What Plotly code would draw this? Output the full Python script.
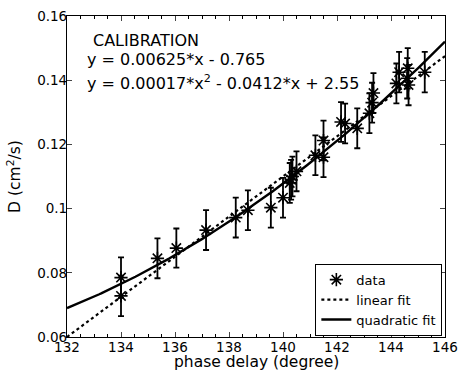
import numpy as np
import plotly.graph_objects as go

# Data
phase_delay = [134.0, 134.0, 135.35, 136.05, 137.15, 138.25, 138.7, 139.55, 140.0,
               140.25, 140.3, 140.35, 140.5, 141.2, 141.5, 141.5, 142.15, 142.3,
               142.75, 143.2, 143.3, 143.35, 144.2, 144.3, 144.6, 144.62, 144.65, 145.25]
diffusion = [0.0785, 0.0728, 0.0845, 0.0877, 0.0933, 0.0972, 0.0995, 0.1003, 0.1034,
             0.1080, 0.1090, 0.1100, 0.1116, 0.1166, 0.1212, 0.1160, 0.1270, 0.1265,
             0.1250, 0.1297, 0.1330, 0.1360, 0.1390, 0.1425, 0.1406, 0.1437, 0.1385, 0.1425]
diffusion_err = [0.0063, 0.0063, 0.0062, 0.0061, 0.0062, 0.0062, 0.0062, 0.0062, 0.0062,
                 0.0062, 0.0062, 0.0062, 0.0062, 0.0062, 0.0062, 0.0062, 0.0062, 0.0062,
                 0.0062, 0.0062, 0.0062, 0.0062, 0.0062, 0.0063, 0.0063, 0.0063, 0.0063, 0.0063]

# Fits (linear as labelled; quadratic as drawn, centred at 139)
linear_coef = [0.00625, -0.765]
quad_center = 139.0
quad_coef = [0.0001804, 0.005929, 0.10166]

x_range = [132, 146]
y_range = [0.06, 0.16]
x_ticks = [132, 134, 136, 138, 140, 142, 144, 146]
y_ticks = [0.06, 0.08, 0.1, 0.12, 0.14, 0.16]

labels = ["CALIBRATION",
          "y = 0.00625*x - 0.765",
          "y = 0.00017*x<sup>2</sup> - 0.0412*x + 2.55"]
x_title = "phase delay (degree)"
y_title = "D (cm<sup>2</sup>/s)"

xf = np.linspace(x_range[0], x_range[1], 200)
y_lin = np.polyval(linear_coef, xf)
y_quad = np.polyval(quad_coef, xf - quad_center)

FONT = "DejaVu Sans, Verdana, sans-serif"

fig = go.Figure()
fig.add_trace(go.Scatter(
    x=phase_delay, y=diffusion, mode="markers", name="data",
    marker=dict(symbol="asterisk-open", size=11, color="black",
                line=dict(width=1.6, color="black")),
    error_y=dict(type="data", array=diffusion_err, color="black",
                 thickness=1.8, width=3),
))
fig.add_trace(go.Scatter(
    x=xf, y=y_lin, mode="lines", name="linear fit",
    line=dict(color="black", width=2.2, dash="dot"),
))
fig.add_trace(go.Scatter(
    x=xf, y=y_quad, mode="lines", name="quadratic fit",
    line=dict(color="black", width=2.4),
))

annots = [
    dict(x=132.9, y=0.1524, text=labels[0]),
    dict(x=132.66, y=0.1466, text=labels[1]),
    dict(x=132.66, y=0.1394, text=labels[2]),
]
for a in annots:
    fig.add_annotation(x=a["x"], y=a["y"], text=a["text"], xref="x", yref="y",
                       xanchor="left", yanchor="middle", showarrow=False,
                       font=dict(family=FONT, size=16, color="black"))

# x-axis title placed flush with the bottom edge, as in the reference
fig.add_annotation(x=0.5, y=-0.112, xref="paper", yref="paper", text=x_title,
                   xanchor="center", yanchor="bottom", showarrow=False,
                   font=dict(family=FONT, size=15.5, color="black"))

fig.update_layout(
    width=458, height=373,
    margin=dict(l=67, r=13, t=16, b=36),
    paper_bgcolor="white", plot_bgcolor="white",
    font=dict(family=FONT, size=13, color="black"),
    showlegend=True,
    legend=dict(x=0.993, y=0.004, xanchor="right", yanchor="bottom",
                bgcolor="white", bordercolor="black", borderwidth=1,
                font=dict(family=FONT, size=13), tracegroupgap=0,
                itemwidth=30),
)
fig.update_xaxes(
    range=x_range, tickvals=x_ticks, ticks="inside", ticklen=5,
    showline=True, linecolor="black", linewidth=1.2, mirror="allticks",
    showgrid=False, zeroline=False, automargin=False, ticklabelstandoff=-2,
    minor=dict(dtick=0.5, ticks="inside", ticklen=3, tickcolor="black", showgrid=False),
    tickfont=dict(family=FONT, size=13.5),
)
fig.update_yaxes(
    range=y_range, tickvals=y_ticks, ticks="inside", ticklen=5,
    showline=True, linecolor="black", linewidth=1.2, mirror="allticks",
    showgrid=False, zeroline=False, ticklabelstandoff=-4, automargin=False,
    tickfont=dict(family=FONT, size=13.5),
    title=dict(text=y_title, font=dict(family=FONT, size=15.5), standoff=12),
)

fig.write_html("out.html")
